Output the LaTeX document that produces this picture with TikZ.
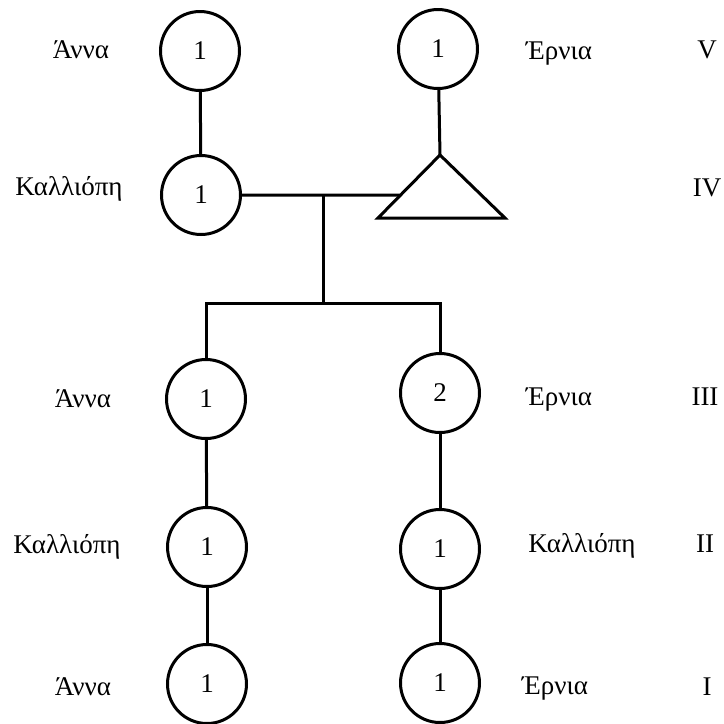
\documentclass[tikz,border=0pt]{standalone}
\usepackage{fontspec}
\setmainfont{Liberation Serif}
\usetikzlibrary{calc}
\begin{document}
\begin{tikzpicture}[x=1pt,y=-1pt,
  person/.style={circle,draw,line width=3pt,minimum size=79pt,inner sep=0pt,font=\fontsize{27}{32}\selectfont},
  lbl/.style={anchor=base,inner sep=0pt,font=\fontsize{27}{32}\selectfont},
  link/.style={line width=3pt}]
\useasboundingbox (0,0) rectangle (724,724);
% generation V
\node[person] (a5) at (200,51) {1};
\node[person] (e5) at (438,49) {1};
% generation IV
\node[person] (k4) at (201,195) {1};
\coordinate (tA) at (440,155);
\coordinate (tL) at (378,218);
\coordinate (tR) at (505,218);
\coordinate (tM) at ($(tL)!0.365!(tA)$);
\draw[link,line join=miter] (tA) -- (tR) -- (tL) -- cycle;
% generation III
\node[person] (l3) at (206,399) {1};
\node[person] (r3) at (440,393) {2};
% generation II
\node[person] (l2) at (207,547) {1};
\node[person] (r2) at (440,549) {1};
% generation I
\node[person] (l1) at (207,684) {1};
\node[person] (r1) at (440,683) {1};
% connectors
\coordinate (j1) at (323,195);
\coordinate (j2) at (323,303);
\draw[link] (a5) -- (k4);
\draw[link] (e5) -- (tA);
\draw[link] (k4.east) -- (tM);
\draw[link] (j1) -- (j2);
\draw[link] (l3.north) |- (j2) -| (r3.north);
\draw[link] (l3) -- (l2);
\draw[link] (l2) -- (l1);
\draw[link] (r3) -- (r2);
\draw[link] (r2) -- (r1);
% labels
\node[lbl] (n5l) at (81,58) {Άννα};
\node[lbl] (n5r) at (559,59) {Έρνια};
\node[lbl] (g5) at (707,58) {V};
\node[lbl] (n4l) at (69,195) {Καλλιόπη};
\node[lbl] (g4) at (707,196) {IV};
\node[lbl] (n3l) at (83,407) {Άννα};
\node[lbl] (n3r) at (559,405) {Έρνια};
\node[lbl] (g3) at (705,405) {III};
\node[lbl] (n2l) at (67,553) {Καλλιόπη};
\node[lbl] (n2r) at (582,552) {Καλλιόπη};
\node[lbl] (g2) at (705,552) {II};
\node[lbl] (n1l) at (83,695) {Άννα};
\node[lbl] (n1r) at (555,694) {Έρνια};
\node[lbl] (g1) at (707,695) {I};
\end{tikzpicture}
\end{document}
